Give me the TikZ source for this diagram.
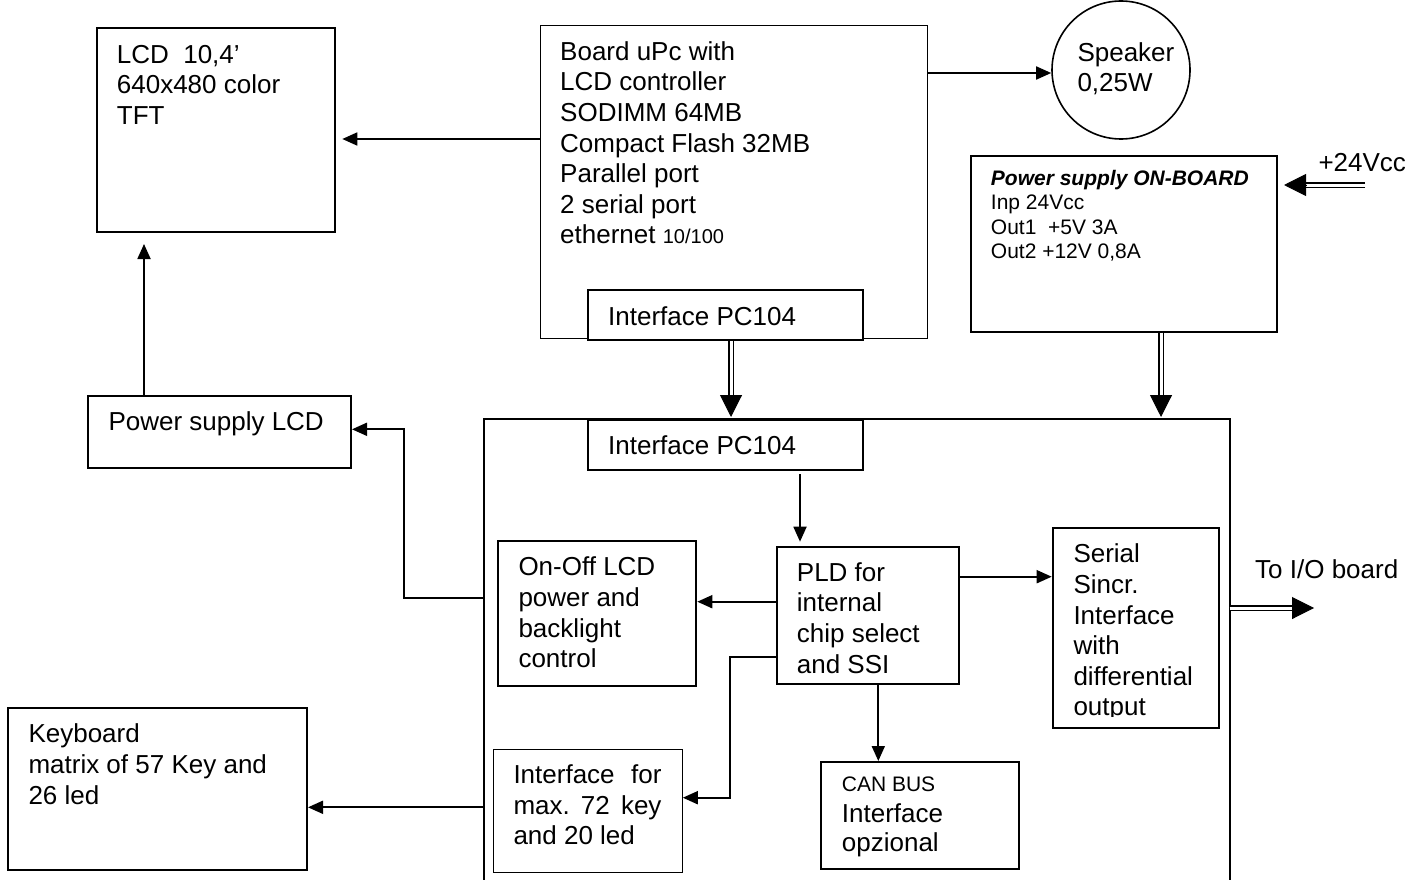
\documentclass[tikz,border=0pt]{standalone}
\usepackage{fontspec}
\setmainfont{Liberation Sans}
\usetikzlibrary{arrows.meta,calc}

% text sizes
\newcommand\fsA{\fontsize{26}{30.6}\selectfont}
\newcommand\fsB{\fontsize{21}{24.3}\selectfont}
\newcommand\fsC{\fontsize{20}{24}\selectfont}
% fixed height for the first line of each text block
\newcommand\topstrut{\rule{0pt}{22pt}}

\tikzset{
  blk/.style={draw, line width=2pt, rectangle, inner sep=0pt, anchor=north west, fill=white},
  thinblk/.style={blk, line width=1.1pt},
  txt/.style={anchor=north west, inner sep=0pt, align=left, font=\fsA},
  conn/.style={line width=1.8pt, -{Triangle[length=15pt,width=13pt]}},
  dshaft/.style={double, double distance=3pt, line width=1.8pt, shorten >=14pt},
  dhead/.style={-{Triangle[length=22pt,width=22pt]}, line width=1pt},
}
% double-line connector with a large filled head
\newcommand\dblarrow[2]{%
  \draw[dshaft] (#1) -- (#2);
  \draw[dhead] ($(#2)!22pt!(#1)$) -- (#2);}

\begin{document}
\begin{tikzpicture}[x=1pt,y=-1pt]
\fill[white] (0,0) rectangle (1423,880);
\useasboundingbox (0,0) rectangle (1423,880);

% ---------- upper row ----------
\node[blk, minimum width=238.6pt, minimum height=204.3pt] (lcd) at (95.7,26.7) {};
\node[txt] (lcdtxt) at (116.7,41) {\topstrut LCD\ \ 10,4’\\640x480 color\\TFT};

\node[thinblk, minimum width=387.3pt, minimum height=313pt] (board) at (540,25) {};
\node[txt] (boardtxt) at (560,38) {\topstrut Board uPc with\\LCD controller\\SODIMM 64MB\\Compact Flash 32MB\\Parallel port\\2 serial port\\ethernet {\fsC 10/100}};
\node[blk, minimum width=275.6pt, minimum height=50pt] (ipc1) at (586.7,289.3) {};
\node[txt] (ipc1txt) at (608,303) {\topstrut Interface PC104};

\node[draw, circle, line width=1.6pt, minimum size=138pt, inner sep=0pt] (spk) at (1121,70) {};
\node[txt] (spktxt) at (1077.3,39) {\topstrut Speaker\\[-0.6pt]0,25W};

\node[blk, minimum width=306pt, minimum height=175.7pt] (psob) at (970,155) {};
\node[txt, font=\fsB] (psobtxt) at (990.7,163.3) {\topstrut\textbf{\textit{Power supply ON-BOARD}}\\Inp 24Vcc\\Out1\ \ +5V 3A\\Out2 +12V 0,8A};
\node[txt] (v24txt) at (1318.3,149.7) {\topstrut +24Vcc};

% ---------- left column ----------
\node[blk, minimum width=262.7pt, minimum height=72.3pt] (pslcd) at (87.3,395) {};
\node[txt] (pslcdtxt) at (108.3,408.7) {\topstrut Power supply LCD};

\node[blk, minimum width=298.7pt, minimum height=162pt] (kbd) at (7.3,707.3) {};
\node[txt] (kbdtxt) at (28.3,720.7) {\topstrut Keyboard\\matrix of 57 Key and\\26 led};

% ---------- main board (open at the bottom) ----------
\node[inner sep=0pt, minimum width=745.3pt, minimum height=461pt, anchor=north west] (main) at (484,419) {};
\draw[line width=2pt] (main.south west) -- (main.north west) -- (main.north east) -- (main.south east);

\node[blk, minimum width=275.6pt, minimum height=50.3pt] (ipc2) at (586.7,419) {};
\node[txt] (ipc2txt) at (608,432.3) {\topstrut Interface PC104};

\node[blk, minimum width=182.6pt, minimum height=137.6pt] (pld) at (775.7,545.7) {};
\node[txt] (pldtxt) at (796.7,559) {\topstrut PLD for\\internal\\chip select\\and SSI};

\node[blk, minimum width=198.6pt, minimum height=145.3pt] (onoff) at (496.7,540) {};
\node[txt] (onofftxt) at (518.3,553.7) {\topstrut On-Off LCD\\power and\\backlight\\control};

\node[thinblk, minimum width=189pt, minimum height=122.4pt] (keyif) at (492.7,749.3) {};
\node[txt] (keyiftxt) at (513.3,761.3) {\topstrut\hbox to 148pt{Interface\hfill for}\\\hbox to 148pt{max.\hfill 72\hfill key}\\and 20 led};

\node[blk, minimum width=197.7pt, minimum height=107.3pt] (can) at (820,761) {};
\node[txt] (cantxt) at (841.7,769.7) {\topstrut{\fsB CAN BUS}\\Interface\\[-2pt]opzional};

\node[blk, minimum width=166.6pt, minimum height=200pt] (serial) at (1051.7,527.3) {};
\begin{scope}
  \clip (1051.7,527.3) rectangle (1218.3,716);
  \node[txt] (sertxt) at (1073.3,540.7) {\topstrut Serial\\Sincr.\\Interface\\with\\differential\\output};
\end{scope}

\node[txt] (iotxt) at (1255,556) {\topstrut To I/O board};

% ---------- single connectors ----------
\draw[conn, shorten >=6pt] (board.west |- 0,139) -- (lcd.east |- 0,139);
\draw[conn, shorten >=11pt] (pslcd.north -| 144,0) -- (lcd.south -| 144,0);
\draw[conn] (board.east |- 0,73) -- (spk.west |- 0,73);
\draw[conn, shorten <=3pt, shorten >=4pt] (ipc2.south -| 800,0) -- (pld.north -| 800,0);
\draw[conn] (pld.west |- 0,601.7) -- (onoff.east |- 0,601.7);
\draw[conn] (pld.west |- 0,657.3) -| (730,797.7) -- (keyif.east |- 0,797.7);
\draw[conn] (pld.south -| 878.3,0) -- (can.north -| 878.3,0);
\draw[conn] (pld.east |- 0,576.7) -- (serial.west |- 0,576.7);
\draw[conn] (main.west |- 0,598) -| (404,429.3) -- (pslcd.east |- 0,429.3);
\draw[conn] (main.west |- 0,807.3) -- (kbd.east |- 0,807.3);

% ---------- double connectors ----------
\coordinate (d1a) at (ipc1.south -| 731,0);
\coordinate (d1b) at ($(main.north -| 731,0)+(0,-2)$);
\dblarrow{d1a}{d1b}
\coordinate (d2a) at (psob.south -| 1161,0);
\coordinate (d2b) at ($(main.north -| 1161,0)+(0,-2)$);
\dblarrow{d2a}{d2b}
\coordinate (v24) at (1365,185);
\coordinate (d3b) at ($(psob.east |- 0,185)+(6,0)$);
\dblarrow{v24}{d3b}
\coordinate (d4a) at (main.east |- 0,608);
\coordinate (io) at (1314,608);
\dblarrow{d4a}{io}
\end{tikzpicture}
\end{document}
